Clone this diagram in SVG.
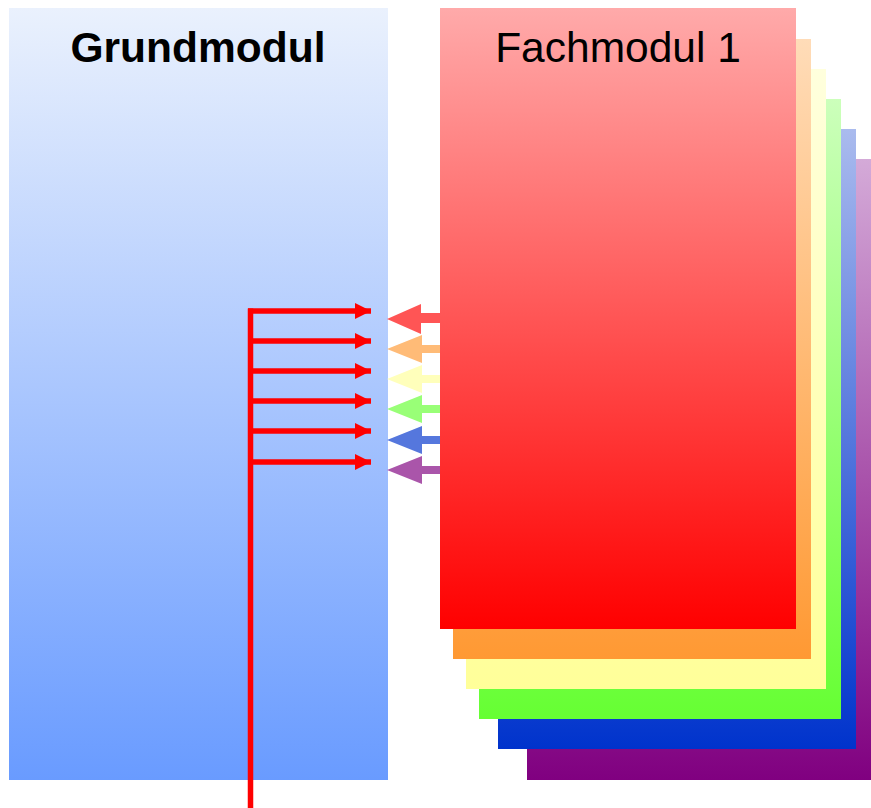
<svg xmlns="http://www.w3.org/2000/svg" width="871" height="808" viewBox="0 0 871 808">
<defs>
<linearGradient id="gBlue" x1="0" y1="0" x2="0" y2="1"><stop offset="0" stop-color="#eaf1fd"/><stop offset="1" stop-color="#699bff"/></linearGradient>
<linearGradient id="gRed" x1="0" y1="0" x2="0" y2="1"><stop offset="0" stop-color="#ffaaaa"/><stop offset="1" stop-color="#ff0000"/></linearGradient>
<linearGradient id="gOrange" x1="0" y1="0" x2="0" y2="1"><stop offset="0" stop-color="#ffdcb8"/><stop offset="1" stop-color="#ff9933"/></linearGradient>
<linearGradient id="gYellow" x1="0" y1="0" x2="0" y2="1"><stop offset="0" stop-color="#ffffdd"/><stop offset="1" stop-color="#ffff99"/></linearGradient>
<linearGradient id="gGreen" x1="0" y1="0" x2="0" y2="1"><stop offset="0" stop-color="#ccffbb"/><stop offset="1" stop-color="#66ff33"/></linearGradient>
<linearGradient id="gBlue2" x1="0" y1="0" x2="0" y2="1"><stop offset="0" stop-color="#aabbee"/><stop offset="1" stop-color="#0033cc"/></linearGradient>
<linearGradient id="gPurple" x1="0" y1="0" x2="0" y2="1"><stop offset="0" stop-color="#d4aad8"/><stop offset="1" stop-color="#800080"/></linearGradient>
<marker id="mRed" markerUnits="userSpaceOnUse" markerWidth="17" markerHeight="17" refX="16" refY="8" orient="auto" overflow="visible"><path d="M0,0 L16,8 L0,16 Z" fill="#ff0000"/></marker>
</defs>
<style>
.title{font-family:"Liberation Sans",Arial,sans-serif;font-size:42.5px;fill:#000;text-anchor:middle}
.redline{stroke:#ff0000;stroke-width:5.5;fill:none}
</style>
<g id="stack">
<rect id="fach6" x="527" y="159" width="344" height="621" fill="url(#gPurple)"/>
<rect id="fach5" x="498" y="129" width="358" height="620" fill="url(#gBlue2)"/>
<rect id="fach4" x="479" y="99" width="362" height="620" fill="url(#gGreen)"/>
<rect id="fach3" x="466" y="69" width="360" height="620" fill="url(#gYellow)"/>
<rect id="fach2" x="453" y="39" width="358" height="620" fill="url(#gOrange)"/>
<g id="fach1">
<rect x="440" y="8" width="356" height="621" fill="url(#gRed)"/>
<text class="title" x="618" y="62">Fachmodul 1</text>
</g>
</g>
<g id="grundmodul">
<rect x="9" y="8" width="379" height="772" fill="url(#gBlue)"/>
<text class="title" x="198" y="62" font-weight="bold">Grundmodul</text>
</g>
<g id="connectors">
<line class="redline" x1="250.5" y1="308.5" x2="250.5" y2="808" stroke-width="5"/>
<line class="redline" x1="248" y1="311" x2="371" y2="311" marker-end="url(#mRed)"/>
<line class="redline" x1="251" y1="341" x2="371" y2="341" marker-end="url(#mRed)"/>
<line class="redline" x1="251" y1="371" x2="371" y2="371" marker-end="url(#mRed)"/>
<line class="redline" x1="251" y1="401" x2="371" y2="401" marker-end="url(#mRed)"/>
<line class="redline" x1="251" y1="431" x2="371" y2="431" marker-end="url(#mRed)"/>
<line class="redline" x1="251" y1="462" x2="371" y2="462" marker-end="url(#mRed)"/>
<path d="M440,313 L421,313 L421,304 L387,319 L421,334 L421,323 L440,323 Z" fill="#ff5555"/>
<path d="M440,345 L422,345 L422,335 L387,349 L422,363 L422,353 L440,353 Z" fill="#ffbb77"/>
<path d="M440,375 L422,375 L422,365 L387,379 L422,393 L422,383 L440,383 Z" fill="#ffffbb"/>
<path d="M440,405 L422,405 L422,395 L387,409 L422,423 L422,413 L440,413 Z" fill="#99ff77"/>
<path d="M440,436 L422,436 L422,426 L387,440 L422,454 L422,444 L440,444 Z" fill="#5577dd"/>
<path d="M440,466 L422,466 L422,456 L387,470 L422,484 L422,474 L440,474 Z" fill="#aa55aa"/>
</g>
</svg>
